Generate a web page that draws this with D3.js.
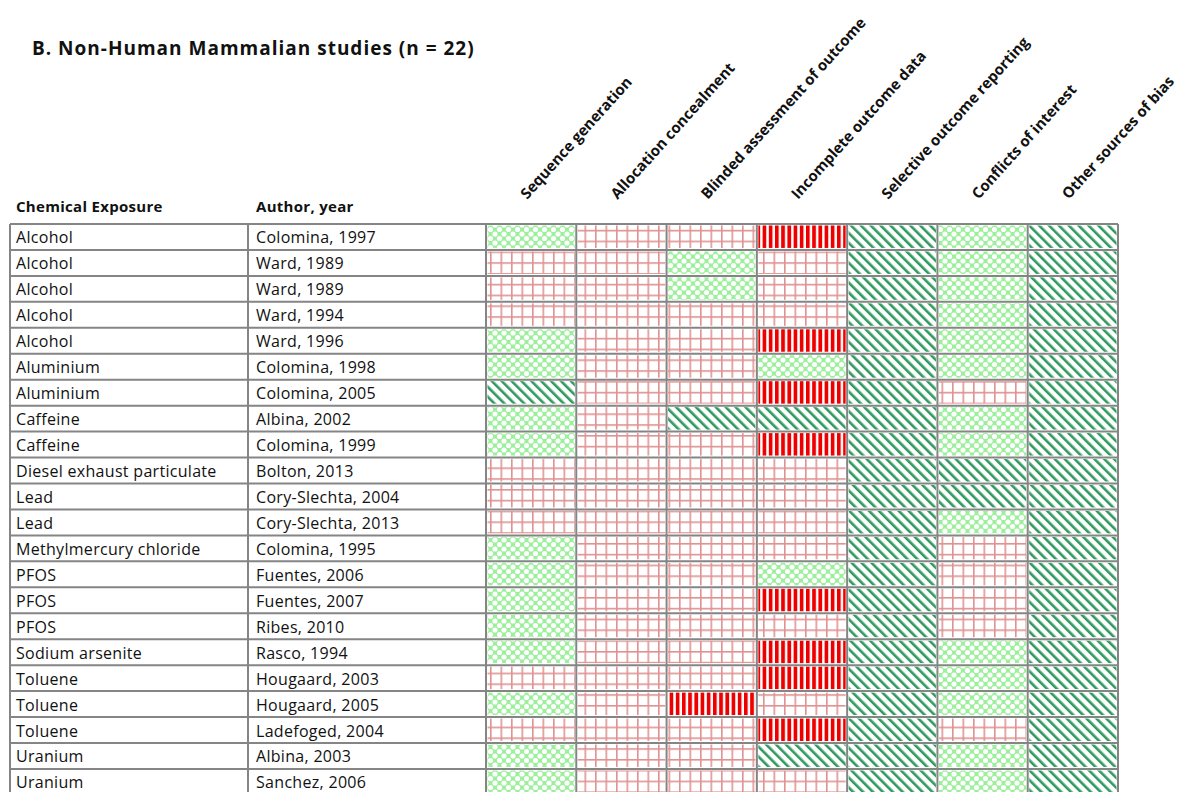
<!DOCTYPE html>
<html>
<head>
<meta charset="utf-8">
<script src="https://cdn.jsdelivr.net/npm/d3@7"></script>
<style>
  body { margin: 0; background: #fff; }
  text { font-family: "Open Sans", sans-serif; fill: #111; }
</style>
</head>
<body>
<div id="chart"></div>
<script>
// rows of the table
var chemicals = ["Alcohol","Alcohol","Alcohol","Alcohol","Alcohol","Aluminium","Aluminium",
  "Caffeine","Caffeine","Diesel exhaust particulate","Lead","Lead","Methylmercury chloride",
  "PFOS","PFOS","PFOS","Sodium arsenite","Toluene","Toluene","Toluene","Uranium","Uranium"];
var authors = ["Colomina, 1997","Ward, 1989","Ward, 1989","Ward, 1994","Ward, 1996","Colomina, 1998",
  "Colomina, 2005","Albina, 2002","Colomina, 1999","Bolton, 2013","Cory-Slechta, 2004",
  "Cory-Slechta, 2013","Colomina, 1995","Fuentes, 2006","Fuentes, 2007","Ribes, 2010",
  "Rasco, 1994","Hougaard, 2003","Hougaard, 2005","Ladefoged, 2004","Albina, 2003","Sanchez, 2006"];
var domains = ["Sequence generation","Allocation concealment","Blinded assessment of outcome",
  "Incomplete outcome data","Selective outcome reporting","Conflicts of interest","Other sources of bias"];

// D = definitely low, G = probably low, R = probably high, V = definitely high
var ratings = [
  "GRRVDGD","RRGRDGD","RRGRDGD","RRRRDGD","GRRVDGD","GRRGDGD","DRRVDRD",
  "GRDDDGD","GRRVDGD","RRRRDDD","RRRRDDD","RRRRDGD","GRRRDRD","GRRGDRD",
  "GRRVDRD","GRRRDRD","GRRVDGD","RRRVDGD","GRVRDGD","RRRVDRD","GRRDDGD","GRRRDGD"
];

var W = 1177, H = 792;
var svg = d3.select("#chart").append("svg").attr("width", W).attr("height", H);
var defs = svg.append("defs");

// green cross-hatch (probably low)
var pG = defs.append("pattern").attr("id","pG").attr("patternUnits","userSpaceOnUse")
  .attr("width", 9).attr("height", 9);
pG.append("rect").attr("width",9).attr("height",9).attr("fill","#9cf09c");
[[0,0],[9,0],[0,9],[9,9],[4.5,4.5]].forEach(function(p){
  pG.append("circle").attr("cx",p[0]).attr("cy",p[1]).attr("r",2.6).attr("fill","#fff");
});

// dark green diagonal (definitely low)
var pD = defs.append("pattern").attr("id","pD").attr("patternUnits","userSpaceOnUse")
  .attr("width", 7).attr("height", 7).attr("patternTransform","rotate(-45)");
pD.append("rect").attr("width",7).attr("height",7).attr("fill","#fff");
pD.append("rect").attr("x",0).attr("width",2.6).attr("height",7).attr("fill","#2f9a5e");

// pink grid (probably high)
var pR = defs.append("pattern").attr("id","pR").attr("patternUnits","userSpaceOnUse")
  .attr("width", 10.5).attr("height", 10.8).attr("x", 490).attr("y", 3);
pR.append("rect").attr("width",10.5).attr("height",10.8).attr("fill","#fff");
pR.append("rect").attr("x",0).attr("width",1.6).attr("height",10.8).attr("fill","#e09292");
pR.append("rect").attr("y",0).attr("width",10.5).attr("height",1.6).attr("fill","#e09292");

// red vertical (definitely high)
var pV = defs.append("pattern").attr("id","pV").attr("patternUnits","userSpaceOnUse")
  .attr("width", 6.2).attr("height", 6);
pV.append("rect").attr("width",6.2).attr("height",6).attr("fill","#fff");
pV.append("rect").attr("width",3.7).attr("height",6).attr("fill","#ee0000");

var fillFor = { G: "url(#pG)", D: "url(#pD)", R: "url(#pR)", V: "url(#pV)" };

var y = d3.scaleBand().domain(d3.range(chemicals.length)).range([224, 224 + 22 * 25.95]);
var x = d3.scaleBand().domain(domains).range([486, 1118]);
var colChem = 10, colAuth = 248;

// title
svg.append("text").attr("x", 32).attr("y", 55)
  .style("font-size","19px").style("font-weight","bold").style("letter-spacing","1px")
  .text("B. Non-Human Mammalian studies (n = 22)");

// column headers
svg.append("text").attr("x", 16).attr("y", 212)
  .style("font-size","15px").style("font-weight","bold").style("letter-spacing","0.3px")
  .text("Chemical Exposure");
svg.append("text").attr("x", 256).attr("y", 212)
  .style("font-size","15px").style("font-weight","bold").style("letter-spacing","0.3px")
  .text("Author, year");

svg.append("g").selectAll("text").data(domains).enter().append("text")
  .attr("transform", function(d){ return "translate(" + (x(d) + x.bandwidth()/2 - 4) + ",200) rotate(-48)"; })
  .style("font-size","15px").style("font-weight","bold")
  .text(function(d){ return d; });

// cells
var cells = svg.append("g");
ratings.forEach(function(r, i){
  domains.forEach(function(d, j){
    cells.append("rect")
      .attr("x", x(d) + 1.5).attr("y", y(i) + 1.5)
      .attr("width", x.bandwidth() - 3).attr("height", y.bandwidth() - 3.5)
      .attr("fill", fillFor[r[j]]);
  });
});

// row labels
var rows = svg.append("g").selectAll("g").data(chemicals).enter().append("g");
rows.append("text").attr("x", 16).attr("y", function(d,i){ return y(i) + y.bandwidth()/2 + 6.5; })
  .style("font-size","16px").style("letter-spacing","0.3px").text(function(d){ return d; });
rows.append("text").attr("x", 256).attr("y", function(d,i){ return y(i) + y.bandwidth()/2 + 6.5; })
  .style("font-size","16px").style("letter-spacing","0.3px").text(function(d,i){ return authors[i]; });

// grid lines
var grid = svg.append("g").attr("stroke","#858585").attr("stroke-width",2);
d3.range(chemicals.length + 1).forEach(function(i){
  var yy = i < chemicals.length ? y(i) : y.range()[1];
  grid.append("line").attr("x1", colChem).attr("x2", 1118).attr("y1", yy).attr("y2", yy);
});
var vx = [colChem, colAuth].concat(domains.map(function(d){ return x(d); })).concat([1118]);
vx.forEach(function(xx){
  grid.append("line").attr("x1", xx).attr("x2", xx).attr("y1", 224).attr("y2", y.range()[1]);
});
</script>
</body>
</html>
